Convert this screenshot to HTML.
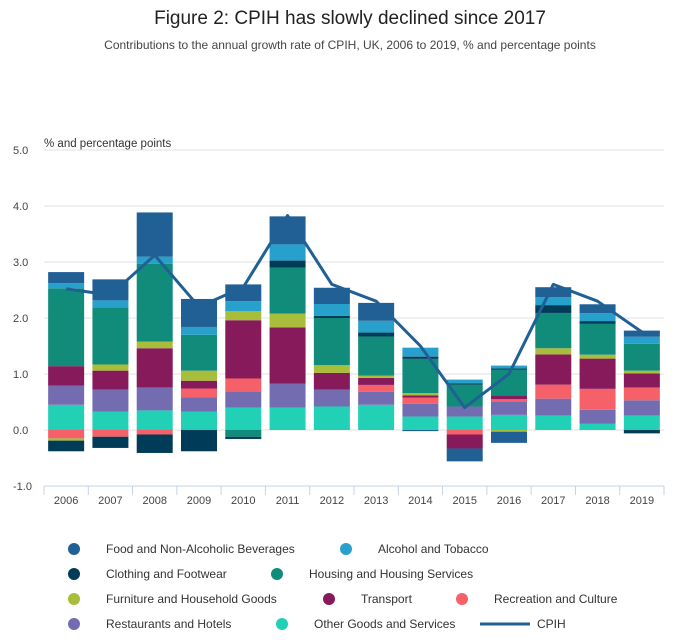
<!DOCTYPE html>
<html><head><meta charset="utf-8"><style>
body{margin:0;background:#fff;font-family:"Liberation Sans",sans-serif;}
svg text{font-family:"Liberation Sans",sans-serif;}
</style></head><body>
<svg id="chart" width="700" height="635" xmlns="http://www.w3.org/2000/svg">
<text x="350" y="24" text-anchor="middle" font-size="19" fill="#222">Figure 2: CPIH has slowly declined since 2017</text>
<text x="350" y="49" text-anchor="middle" font-size="12" fill="#444">Contributions to the annual growth rate of CPIH, UK, 2006 to 2019, % and percentage points</text>
<text x="44" y="147" font-size="11.5" fill="#333">% and percentage points</text>
<g id="grid"></g><g id="bars"></g><g id="line"></g><g id="xaxis"></g>
<g font-size="12" fill="#333">
<g><circle cx="74" cy="549" r="6" fill="#206095"/><text x="106" y="553">Food and Non-Alcoholic Beverages</text></g>
<g><circle cx="346" cy="549" r="6" fill="#27a0cc"/><text x="378" y="553">Alcohol and Tobacco</text></g>
<g><circle cx="74" cy="574" r="6" fill="#003c57"/><text x="106" y="578">Clothing and Footwear</text></g>
<g><circle cx="277" cy="574" r="6" fill="#118c7b"/><text x="309" y="578">Housing and Housing Services</text></g>
<g><circle cx="74" cy="599" r="6" fill="#a8bd3a"/><text x="106" y="603">Furniture and Household Goods</text></g>
<g><circle cx="329" cy="599" r="6" fill="#871a5b"/><text x="361" y="603">Transport</text></g>
<g><circle cx="462" cy="599" r="6" fill="#f66068"/><text x="494" y="603">Recreation and Culture</text></g>
<g><circle cx="74" cy="624" r="6" fill="#746cb1"/><text x="106" y="628">Restaurants and Hotels</text></g>
<g><circle cx="282" cy="624" r="6" fill="#22d0b6"/><text x="314" y="628">Other Goods and Services</text></g>
<g><line x1="480" y1="624" x2="530" y2="624" stroke="#206095" stroke-width="3"/><text x="537" y="628">CPIH</text></g>
</g>
</svg>
<script>
const years=["2006","2007","2008","2009","2010","2011","2012","2013","2014","2015","2016","2017","2018","2019"];
const yTicks=[-1,0,1,2,3,4,5];
const other=[0.45,0.33,0.35,0.33,0.40,0.40,0.42,0.45,0.24,0.24,0.27,0.26,0.11,0.26];
const restaurants=[0.34,0.39,0.41,0.25,0.29,0.43,0.30,0.23,0.23,0.18,0.23,0.30,0.25,0.27];
const recreation=[-0.15,-0.12,-0.08,0.16,0.23,0,0,0.125,0.11,-0.08,0.05,0.25,0.375,0.23];
const transport=[0.35,0.34,0.70,0.14,1.04,1.0,0.30,0.125,0.04,-0.25,0.07,0.54,0.54,0.25];
const furniture=[-0.04,0.11,0.12,0.18,0.16,0.25,0.14,0.04,0.04,0,-0.03,0.11,0.07,0.05];
const housing=[1.39,1.02,1.39,0.64,-0.12,0.82,0.84,0.70,0.61,0.39,0.46,0.63,0.55,0.48];
const clothing=[-0.19,-0.2,-0.33,-0.38,-0.04,0.125,0.04,0.07,0.04,0.02,0.02,0.14,0.05,-0.06];
const alcohol=[0.09,0.125,0.125,0.14,0.18,0.29,0.21,0.21,0.16,0.07,0.05,0.14,0.14,0.125];
const food=[0.20,0.375,0.79,0.5,0.30,0.5,0.29,0.32,-0.02,-0.23,-0.2,0.18,0.16,0.11];
const cpih=[2.52,2.41,3.12,2.2,2.55,3.83,2.6,2.3,1.5,0.4,1.0,2.6,2.3,1.75];
const series=[["other",other,"#22d0b6"],["restaurants",restaurants,"#746cb1"],["recreation",recreation,"#f66068"],["transport",transport,"#871a5b"],["furniture",furniture,"#a8bd3a"],["housing",housing,"#118c7b"],["clothing",clothing,"#003c57"],["alcohol",alcohol,"#27a0cc"],["food",food,"#206095"]];
const NS="http://www.w3.org/2000/svg";
const x0=44,x1=664,band=(x1-x0)/years.length,barW=36;
const y=v=>430-v*56;
const cx=i=>x0+band*(i+0.5);
function mk(tag,attrs,parent,txt){const e=document.createElementNS(NS,tag);for(const k in attrs)e.setAttribute(k,attrs[k]);if(txt!==undefined)e.textContent=txt;parent.appendChild(e);return e;}
const grid=document.getElementById('grid');
yTicks.forEach(t=>{
 const l=mk('line',{x1:x0,x2:x1,y1:y(t),y2:y(t),stroke:'#e2e2e2','stroke-width':1},grid);
 
 
 const tx=mk('text',{x:13,y:y(t)+4,'font-size':11,fill:'#444'},grid,t.toFixed(1));
 
 
});
const bars=document.getElementById('bars');
years.forEach((yr,i)=>{
 let pos=0,neg=0;
 series.forEach(([name,arr,col])=>{
  const v=arr[i];if(!v)return;
  let top,bot;
  if(v>0){bot=pos;pos+=v;top=pos;}else{top=neg;neg+=v;bot=neg;}
  const r=mk('rect',{x:cx(i)-barW/2,y:y(top),width:barW,height:y(bot)-y(top),fill:col},bars);
  
  
 });
});
const lg=document.getElementById('line');
const p=mk('polyline',{points:cpih.map((v,i)=>cx(i)+','+y(v)).join(' '),fill:'none',stroke:'#206095','stroke-width':3,'stroke-linejoin':'round'},lg);


const xa=document.getElementById('xaxis');
const ax=mk('line',{x1:x0,x2:x1,y1:486,y2:486,stroke:'#c5d3e3'},xa);


for(let i=0;i<=years.length;i++){const t=mk('line',{x1:x0+band*i,x2:x0+band*i,y1:486,y2:495,stroke:'#c5d3e3'},xa);
 
 }
years.forEach((yr,i)=>{const t=mk('text',{x:cx(i),y:504,'text-anchor':'middle','font-size':11,fill:'#444'},xa,yr);
 
 });
</script>
</body></html>
